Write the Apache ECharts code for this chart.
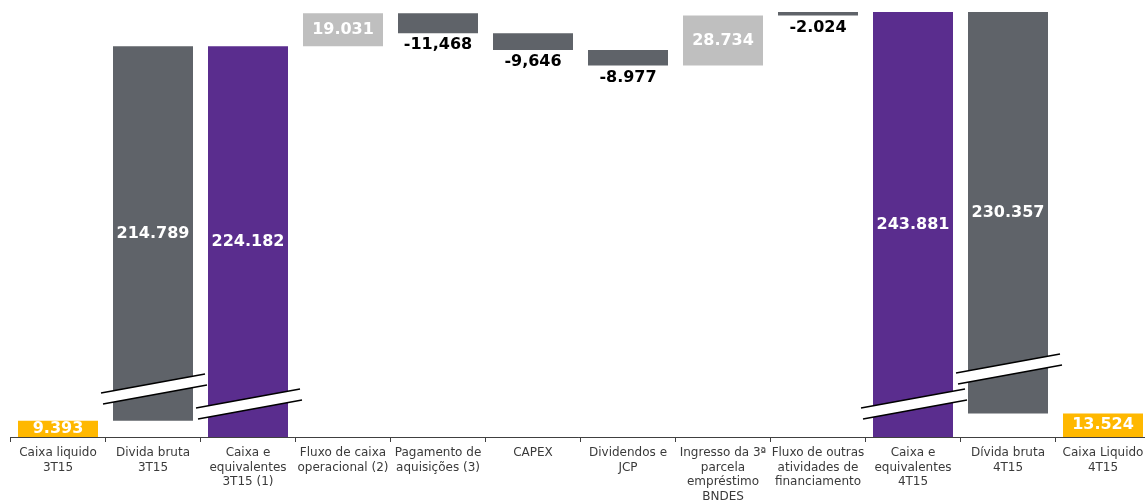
<!DOCTYPE html>
<html>
<head>
<meta charset="utf-8">
<script src="https://cdn.jsdelivr.net/npm/echarts@6/dist/echarts.min.js"></script>
<style>html,body{margin:0;padding:0;background:#fff;}#chart{width:1145px;height:501px;}</style>
</head>
<body>
<div id="chart"></div>
<script>
// ---- data ----
const categories = [
  'Caixa liquido\n3T15', 'Divida bruta\n3T15', 'Caixa e\nequivalentes\n3T15 (1)',
  'Fluxo de caixa\noperacional (2)', 'Pagamento de\naquisições (3)', 'CAPEX',
  'Dividendos e\nJCP', 'Ingresso da 3ª\nparcela\nempréstimo\nBNDES',
  'Fluxo de outras\natividades de\nfinanciamento', 'Caixa e\nequivalentes\n4T15',
  'Dívida bruta\n4T15', 'Caixa Liquido\n4T15'
];
const valueLabels = ['9.393', '214.789', '224.182', '19.031', '-11,468', '-9,646',
  '-8.977', '28.734', '-2.024', '243.881', '230.357', '13.524'];
const barBottom = [0, 9.393, 0, 224.182, 231.745, 222.099, 213.122, 213.122, 241.857, 0, 13.524, 0];
const barTop = [9.393, 224.182, 224.182, 243.213, 243.213, 231.745, 222.099, 241.856, 243.881, 243.881, 243.881, 13.524];
const barKind = ['net', 'debt', 'cash', 'inflow', 'outflow', 'outflow', 'outflow', 'inflow', 'outflow', 'cash', 'debt', 'net'];
// axis-break marks: [category index, value at break centre]
const breakMarks = [[1, 27.5], [2, 18.9], [9, 18.9], [10, 39]];

// ---- styles ----
const kindColor = { net: '#FFB800', debt: '#5F6369', cash: '#5A2D8E', inflow: '#BFBFBF', outflow: '#5F6369' };
const FONT = '"DejaVu Sans", Verdana, sans-serif';

const visibleData = barTop.map((t, i) => {
  const k = barKind[i];
  return {
    value: +(t - barBottom[i]).toFixed(3),
    itemStyle: { color: kindColor[k] },
    label: k === 'outflow'
      ? { position: 'bottom', distance: 4, color: '#000' }
      : { position: 'inside', color: '#fff' }
  };
});

const chart = echarts.init(document.getElementById('chart'), null, { renderer: 'canvas' });
chart.setOption({
  animation: false,
  backgroundColor: '#fff',
  grid: { left: 10.5, top: 1, right: -5.5, bottom: 64, containLabel: false, outerBoundsMode: 'none' },
  xAxis: {
    type: 'category',
    data: categories,
    boundaryGap: true,
    axisLine: { lineStyle: { color: '#404040', width: 1 } },
    axisTick: { show: true, length: 5, alignWithLabel: false, lineStyle: { color: '#404040' } },
    axisLabel: { interval: 0, color: '#3a3a3a', fontFamily: FONT, fontSize: 12, lineHeight: 14.5, margin: 9 }
  },
  yAxis: { type: 'value', min: 0, max: 250.2, show: false, splitLine: { show: false } },
  series: [
    {
      type: 'bar', stack: 'w', data: barBottom, barWidth: 80,
      itemStyle: { color: 'transparent' }, silent: true
    },
    {
      type: 'bar', stack: 'w', data: visibleData, barWidth: 80,
      label: {
        show: true, fontFamily: FONT, fontSize: 16, fontWeight: 'bold',
        formatter: p => valueLabels[p.dataIndex]
      }
    },
    {
      type: 'custom', z: 10, data: breakMarks, clip: false, silent: true,
      renderItem: (params, api) => {
        const p = api.coord([api.value(0), api.value(1)]);
        const cx = p[0], cy = p[1];
        const g = 5.5, s = 9.5;
        return {
          type: 'group',
          children: [
            { type: 'polygon', shape: { points: [[cx - 52, cy - g + s], [cx + 52, cy - g - s], [cx + 54, cy + g - s], [cx - 50, cy + g + s]] }, style: { fill: '#fff' } },
            { type: 'line', shape: { x1: cx - 52, y1: cy - g + s, x2: cx + 52, y2: cy - g - s }, style: { stroke: '#000', lineWidth: 1.6 } },
            { type: 'line', shape: { x1: cx - 50, y1: cy + g + s, x2: cx + 54, y2: cy + g - s }, style: { stroke: '#000', lineWidth: 1.6 } }
          ]
        };
      }
    }
  ]
});
</script>
</body>
</html>
